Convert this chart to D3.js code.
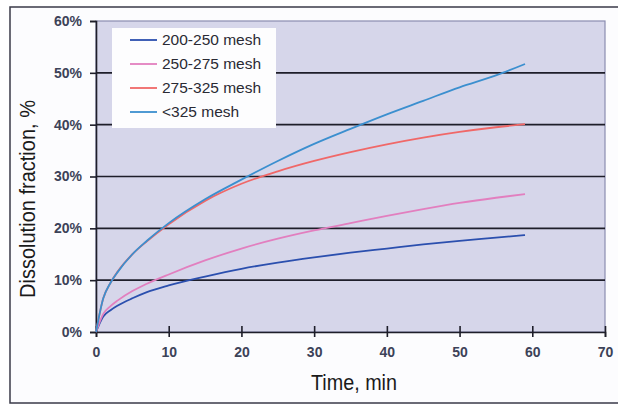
<!DOCTYPE html>
<head>
<meta charset="utf-8">
<style>
  body { margin:0; background:#fff; }
  svg { display:block; }
  .tick text { font-family: "Liberation Sans", Arial, sans-serif; font-size:14px; fill:#3c4258; font-weight:bold; }
  .title { font-family: "Liberation Sans", Arial, sans-serif; font-size:22px; fill:#1a1a1a; }
  .legend text { font-family: "Liberation Sans", Arial, sans-serif; font-size:15.5px; fill:#2a2a34; }
</style>
<script src="https://d3js.org/d3.v7.min.js"></script>
</head>
<body>
<script>

var width = 618;
var height = 405;

// time in minutes
var times = [0, 1, 2, 3, 5, 7, 10, 15, 20, 25, 30, 35, 40, 45, 50, 55, 59];

// dissolution fraction, %
var mesh200_250 = [0, 3.0, 4.2, 5.1, 6.5, 7.7, 9.0, 10.7, 12.2, 13.4, 14.4, 15.3, 16.1, 16.9, 17.6, 18.2, 18.7];
var mesh250_275 = [0, 3.5, 5.0, 6.1, 7.9, 9.3, 11.1, 13.8, 16.1, 18.0, 19.6, 21.0, 22.4, 23.7, 24.9, 25.9, 26.6];
var mesh275_325 = [0, 6.5, 9.5, 11.7, 15.0, 17.5, 20.8, 25.3, 28.6, 31.0, 33.0, 34.7, 36.2, 37.5, 38.6, 39.5, 40.1];
var meshUnder325 = [0, 6.5, 9.5, 11.6, 15.0, 17.6, 21.0, 25.6, 29.4, 33.0, 36.3, 39.2, 42.0, 44.6, 47.2, 49.5, 51.7];

var seriesNames = ["200-250 mesh", "250-275 mesh", "275-325 mesh", "<325 mesh"];
var seriesData = [mesh200_250, mesh250_275, mesh275_325, meshUnder325];
var seriesColors = ["#2b4fae", "#e27fbf", "#f06868", "#3b8fcf"];

var xTicks = [0, 10, 20, 30, 40, 50, 60, 70];
var yTicks = [0, 10, 20, 30, 40, 50, 60];

var x = d3.scaleLinear().domain([0, 70]).range([96, 605]);
var y = d3.scaleLinear().domain([0, 60]).range([332, 21]);

var svg = d3.select("body").append("svg")
    .attr("width", width)
    .attr("height", height);

// outer frame
svg.append("rect")
    .attr("x", 10).attr("y", 7)
    .attr("width", 620).attr("height", 396)
    .attr("fill", "#fcfcfe")
    .attr("stroke", "#3a3a48")
    .attr("stroke-width", 1.5);

// plot background
svg.append("rect")
    .attr("x", x(0)).attr("y", y(60))
    .attr("width", x(70) - x(0)).attr("height", y(0) - y(60))
    .attr("fill", "#d6d6ea")
    .attr("stroke", "#8a8cb0")
    .attr("stroke-width", 1.2);

// y axis with gridlines
var yAxis = svg.append("g")
    .attr("transform", "translate(" + x(0) + ",0)")
    .call(d3.axisLeft(y).tickValues(yTicks).tickSize(6).tickPadding(8)
        .tickFormat(function(d) { return d + "%"; }));
yAxis.select(".domain").attr("stroke", "#1e1e2a").attr("stroke-width", 1.6);
yAxis.selectAll(".tick line").attr("stroke", "#1e1e2a").attr("stroke-width", 1.6);

svg.append("g")
    .selectAll("line")
    .data(yTicks.filter(function(d) { return d > 0 && d < 60; }))
    .enter().append("line")
      .attr("x1", x(0)).attr("x2", x(70))
      .attr("y1", function(d) { return y(d); })
      .attr("y2", function(d) { return y(d); })
      .attr("stroke", "#1e1e2a")
      .attr("stroke-width", 1.6);

// x axis
var xAxis = svg.append("g")
    .attr("transform", "translate(0," + y(0) + ")")
    .call(d3.axisBottom(x).tickValues(xTicks).tickSize(5).tickPadding(10));
xAxis.select(".domain").attr("stroke", "#1e1e2a").attr("stroke-width", 1.6);
xAxis.selectAll(".tick line").attr("stroke", "#1e1e2a").attr("stroke-width", 1.6).attr("y1", -6);

// curves
var line = d3.line()
    .x(function(d) { return x(d[0]); })
    .y(function(d) { return y(d[1]); })
    .curve(d3.curveMonotoneX);

svg.append("g")
    .selectAll("path")
    .data(seriesData)
    .enter().append("path")
      .attr("fill", "none")
      .attr("stroke", function(d, i) { return seriesColors[i]; })
      .attr("stroke-width", 1.8)
      .attr("d", function(d) { return line(d.map(function(v, i) { return [times[i], v]; })); });

// legend
var legend = svg.append("g").attr("class", "legend");
legend.append("rect")
    .attr("x", 112).attr("y", 28)
    .attr("width", 164).attr("height", 100)
    .attr("fill", "#fdfdfe");
var item = legend.selectAll("g")
    .data(seriesNames)
    .enter().append("g")
      .attr("transform", function(d, i) { return "translate(130," + (40 + i * 24) + ")"; });
item.append("line")
    .attr("x1", 0).attr("x2", 27)
    .attr("stroke", function(d, i) { return seriesColors[i]; })
    .attr("stroke-width", 1.8);
item.append("text")
    .attr("x", 32).attr("dy", "0.35em")
    .text(function(d) { return d; });

// axis titles (condensed look)
svg.append("text")
    .attr("class", "title")
    .attr("text-anchor", "middle")
    .attr("transform", "translate(35,199) rotate(-90)")
    .attr("textLength", 198)
    .attr("lengthAdjust", "spacingAndGlyphs")
    .text("Dissolution fraction, %");

svg.append("text")
    .attr("class", "title")
    .attr("text-anchor", "middle")
    .attr("x", 354).attr("y", 390)
    .attr("textLength", 86)
    .attr("lengthAdjust", "spacingAndGlyphs")
    .text("Time, min");

</script>
</body>
